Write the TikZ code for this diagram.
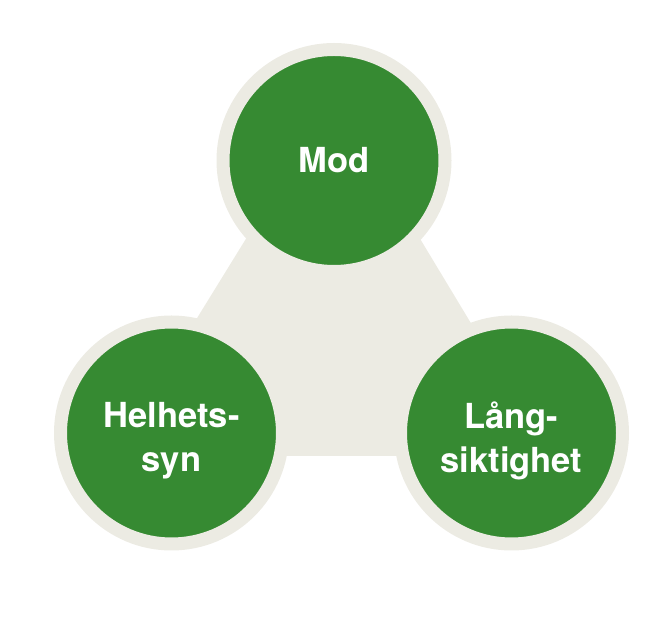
\documentclass[tikz,border=0pt]{standalone}
\usepackage{fontspec}
\setmainfont{TeX Gyre Heros}
\usetikzlibrary{positioning}
\definecolor{cgreen}{HTML}{368A32}
\definecolor{cbeige}{HTML}{ECEBE3}
\tikzset{
  value/.style={circle, fill=cgreen, draw=cbeige, line width=13pt, minimum size=222pt, inner sep=0pt},
  vtext/.style={text=white, align=center, font=\bfseries\fontsize{34.5}{44}\selectfont},
  base/.style={fill=cbeige},
}

\begin{document}
\begin{tikzpicture}[x=1pt,y=1pt]
\useasboundingbox (0,0) rectangle (650,639);
% triangle behind the three values
\coordinate (tip) at (334,543);
\coordinate (left) at (112,183);
\coordinate (right) at (551,183);
\fill[base] (tip) -- (left) -- (right) -- cycle;
% values
\node[value] (mod) at (334,478.5) {};
\node[value] (helhet) at (171.5,206) {};
\node[value] (lang) at (511.5,206) {};
\node[vtext] (modtxt) at (mod.center) {Mod};
\node[vtext] (helhettxt) at ([yshift=-8pt]helhet.center) {Helhets-\\syn};
\node[vtext] (langtxt) at ([yshift=-8pt]lang.center) {Lång-\\siktighet};
\end{tikzpicture}
\end{document}
